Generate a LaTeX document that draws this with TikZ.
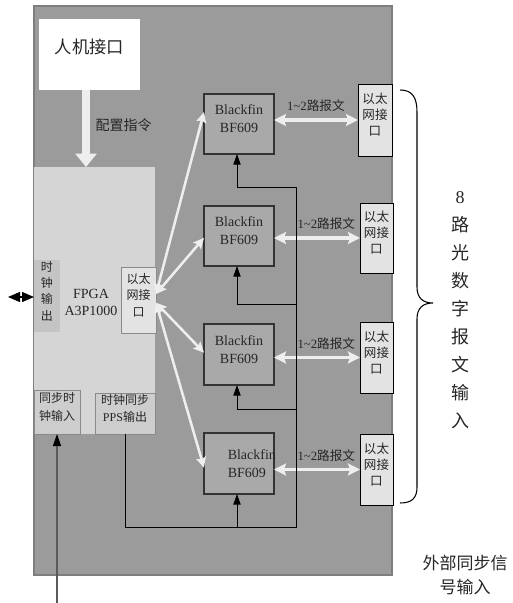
\documentclass[tikz,border=0pt]{standalone}
\usepackage{fontspec}
\setmainfont{Liberation Serif}
\newfontfamily\cjk{Noto Sans CJK SC}
\usetikzlibrary{arrows.meta,fit,calc}
\newcommand\zh[1]{{\cjk #1}}
\newcommand\fs[2]{\fontsize{#1}{#2}\selectfont}
\definecolor{boardfill}{HTML}{9B9B9B}
\definecolor{boardline}{HTML}{7E7E7E}
\definecolor{fpgafill}{HTML}{D5D5D5}
\definecolor{clkfill}{HTML}{C4C4C4}
\definecolor{subfill}{HTML}{CDCDCD}
\definecolor{subline}{HTML}{8A8A8A}
\definecolor{bffill}{HTML}{A9A9A9}
\definecolor{bfline}{HTML}{333333}
\definecolor{ethfill}{HTML}{E3E3E3}
\definecolor{warrow}{HTML}{EEEEEE}
\definecolor{txt}{HTML}{262626}
\definecolor{extgray}{HTML}{5A5A5A}
\begin{document}
\begin{tikzpicture}[x=0.75pt,y=-0.75pt,
  every node/.style={text=txt},
  region/.style={inner sep=0pt, outer sep=0pt, align=center},
  bfbox/.style={region, fill=bffill, draw=bfline, line width=0.8pt, font=\fs{10.5}{13.5}},
  ethbox/.style={region, fill=ethfill, draw=black, line width=0.7pt, font=\fs{9.4}{12}},
  subbox/.style={region, fill=subfill, draw=subline, line width=0.6pt, font=\fs{9}{13}},
  bigarrow/.style={draw=warrow, line width=5.8pt, -{Triangle[length=10pt,width=15.5pt]}},
  darrow/.style={draw=warrow, line width=1.9pt, {Stealth[length=8pt,width=7.5pt,inset=1.5pt]}-{Stealth[length=8pt,width=7.5pt,inset=1.5pt]}},
  harrow/.style={draw=warrow, line width=2.3pt, {Stealth[length=9pt,width=9pt,inset=1.5pt]}-{Stealth[length=9pt,width=9pt,inset=1.5pt]}},
  feed/.style={draw=black, line width=0.7pt},
  tri/.style={-{Triangle[length=8pt,width=5.5pt]}},
  lbl/.style={font=\fs{9.5}{12}, inner sep=0pt},
]
\useasboundingbox (0,0) rectangle (512,603);

% board
\node[region, fill=boardfill, draw=boardline, line width=2pt, fit={(34,6) (392,575)}] (board) {};

% HMI
\node[region, fill=white, fit={(39,19) (140,90)}, font=\fs{13}{16}] (hmi) {\zh{人机接口}};

% FPGA
\node[region, fill=fpgafill, fit={(34,167) (155,434)}] (fpga) {};
\node[font=\fs{10.5}{12.75}, align=center, inner sep=0pt] (fpgalabel) at (91,302) {FPGA\\A3P1000};
\node[region, fill=clkfill, fit={(34,260) (60,332)}, font=\fs{9}{12.25}] (clkout) {\zh{时}\\\zh{钟}\\\zh{输}\\\zh{出}};
\node[region, fill=ethfill, draw=subline, line width=0.6pt, fit={(121,267) (156,333)}, font=\fs{9}{12.4}] (feth) {\zh{以太}\\\zh{网接}\\\zh{口}};
\node[subbox, fit={(34,390) (80,434)}] (syncin) {\zh{同步时}\\\zh{钟输入}};
\node[subbox, fit={(95,393) (155,434)}] (pps) {\zh{时钟同步}\\PPS\zh{输出}};

% config arrow
\draw[bigarrow] ([xshift=-2.6pt]hmi.south) -- ([xshift=-2.6pt]hmi.south |- fpga.north);
\node[font=\fs{10.5}{12}, inner sep=0pt] (cfglabel) at (123.5,125) {\zh{配置指令}};

% Blackfins
\node[bfbox, fit={(204,94) (274,154)}] (bf1) {Blackfin\\BF609};
\node[bfbox, fit={(204,206) (274,266)}] (bf2) {Blackfin\\BF609};
\node[bfbox, fit={(204,324) (274,385)}] (bf3) {Blackfin\\BF609};
\node[bfbox, fit={(204,433) (274,494)}] (bf4) {};
\node[font=\fs{10.5}{13.5}, align=left, anchor=west, inner sep=0pt] (bf4label) at (227.5,464) {Blackfin\\BF609};

% Ethernet boxes
\node[ethbox, fit={(358,84) (392,156)}] (eth1) {\zh{以太}\\\zh{网接}\\\zh{口}};
\node[ethbox, fit={(360,203) (393,273)}] (eth2) {\zh{以太}\\\zh{网接}\\\zh{口}};
\node[ethbox, fit={(360,322) (393,393)}] (eth3) {\zh{以太}\\\zh{网接}\\\zh{口}};
\node[ethbox, fit={(360,434) (393,505)}] (eth4) {\zh{以太}\\\zh{网接}\\\zh{口}};

% FPGA eth -> Blackfin
\draw[darrow] ([yshift=4.5pt]feth.east) -- ($(bf1.north west)!0.3!(bf1.south west)$);
\draw[darrow] ([yshift=4.5pt]feth.east) -- ($(bf2.north west)!0.53!(bf2.south west)$);
\draw[darrow] ([yshift=-2pt]feth.east) -- ($(bf3.north west)!0.47!(bf3.south west)$);
\draw[darrow] ([yshift=-2pt]feth.east) -- ($(bf4.north west)!0.57!(bf4.south west)$);

% Blackfin <-> eth
\draw[harrow] (bf1.east |- eth1.west) -- node[lbl, above=5pt] {1\textasciitilde2\zh{路报文}} (eth1.west);
\draw[harrow] (bf2.east |- eth2.west) -- node[lbl, above=5pt, xshift=7pt] {1\textasciitilde2\zh{路报文}} (eth2.west);
\draw[harrow] (bf3.east |- eth3.west) -- node[lbl, above=5pt, xshift=7pt] {1\textasciitilde2\zh{路报文}} (eth3.west);
\draw[harrow] (bf4.east |- eth4.west) -- node[lbl, above=5pt, xshift=7pt] {1\textasciitilde2\zh{路报文}} (eth4.west);

% PPS bus
\coordinate (bustop) at (296,187);
\coordinate (bus2) at (296,304);
\coordinate (bus3) at (296,409);
\coordinate (busbot) at (296,527);
\draw[feed] (pps.south) |- (busbot) -- (bustop);
\draw[feed,tri] (bustop) -| ([xshift=-1.5pt]bf1.south);
\draw[feed,tri] (bus2) -| ([xshift=-1.5pt]bf2.south);
\draw[feed,tri] (bus3) -| ([xshift=-1.5pt]bf3.south);
\draw[feed,tri] ([xshift=-1.5pt]bf4.south |- busbot) -- ([xshift=-1.5pt]bf4.south);

% external sync input
\coordinate (extin) at (57,603);
\draw[draw=extgray, line width=0.9pt, -{Triangle[length=9pt,width=6pt,color=black]}] (extin) -- (syncin.south);

% clock output double arrow
\coordinate (clkext) at (8,297);
\draw[draw=black, line width=1pt, {Triangle[length=9pt,width=7.5pt]}-{Triangle[length=9pt,width=7.5pt]}] (clkext) -- (clkout.west |- clkext);

% brace
\draw[black, line width=0.8pt] (400,90) .. controls (412,90) and (417,97) .. (417,112) -- (417,287) .. controls (417,298) and (423,303) .. (433,303) .. controls (423,303) and (417,308) .. (417,319) -- (417,487) .. controls (417,498) and (412,503) .. (400,503);

% right texts
\node[font=\fs{13.5}{21}, align=center, inner sep=0pt] (inlabel) at (460,310.5) {8\\\zh{路}\\\zh{光}\\\zh{数}\\\zh{字}\\\zh{报}\\\zh{文}\\\zh{输}\\\zh{入}};
\node[font=\fs{12.75}{18}, align=center, inner sep=0pt] (extlabel) at (465,575) {\zh{外部同步信}\\\zh{号输入}};
\end{tikzpicture}
\end{document}
